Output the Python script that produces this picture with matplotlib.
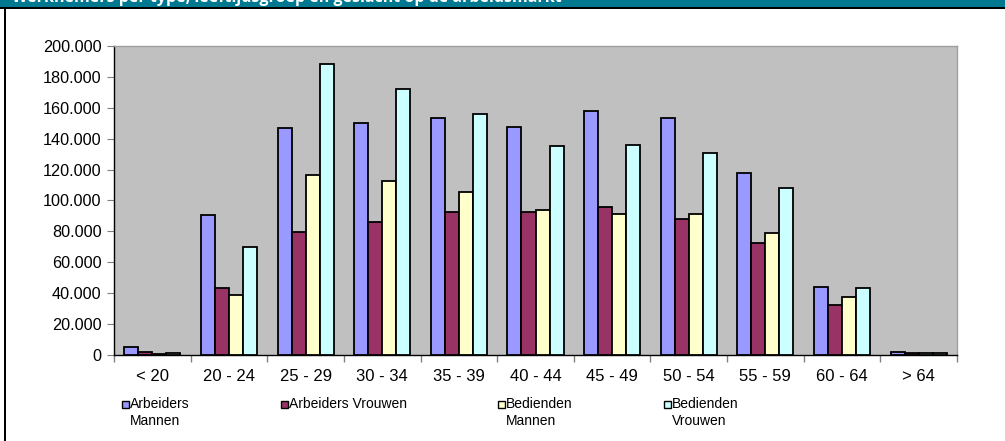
import matplotlib
matplotlib.use("Agg")
import matplotlib.pyplot as plt
import numpy as np
from matplotlib.patches import Rectangle
from matplotlib.ticker import FuncFormatter

categories = ["< 20", "20 - 24", "25 - 29", "30 - 34", "35 - 39", "40 - 44",
              "45 - 49", "50 - 54", "55 - 59", "60 - 64", "> 64"]
arbeiders_mannen = [5400, 90600, 146900, 150200, 153400, 147300, 157900, 153600, 118000, 44200, 2100]
arbeiders_vrouwen = [1700, 43100, 79600, 86100, 92600, 92600, 96000, 88200, 72300, 32600, 1500]
bedienden_mannen = [850, 38600, 116500, 112400, 105700, 93900, 91000, 91000, 78800, 37300, 1100]
bedienden_vrouwen = [1000, 70100, 188100, 172200, 156200, 135300, 136100, 130900, 108300, 43400, 1100]
series_names = ["Arbeiders\nMannen", "Arbeiders Vrouwen", "Bedienden\nMannen", "Bedienden\nVrouwen"]
series_values = [arbeiders_mannen, arbeiders_vrouwen, bedienden_mannen, bedienden_vrouwen]
colors = ["#9999FF", "#993366", "#FFFFCC", "#CCFFFF"]
yticks = list(range(0, 200001, 20000))
title = "Werknemers per type, leeftijdsgroep en geslacht op de arbeidsmarkt"

plt.rcParams["font.family"] = ["Liberation Sans", "DejaVu Sans"]

W, H = 1005, 441
fig = plt.figure(figsize=(W / 100, H / 100), dpi=100)
fig.patch.set_facecolor("white")

# plot area in pixels
x0, x1 = 114, 957
ytop, ybot = 46, 355
ax = fig.add_axes([x0 / W, 1 - ybot / H, (x1 - x0) / W, (ybot - ytop) / H])
ax.set_facecolor("#C0C0C0")

n = len(categories)
x = np.arange(n)
bw = 0.183
for i, (vals, c) in enumerate(zip(series_values, colors)):
    ax.bar(x + (i - 1.5) * bw, vals, width=bw, color=c, edgecolor="black",
           linewidth=1.3, zorder=3)

ax.set_xlim(-0.5, n - 0.5)
ax.set_ylim(0, 200000)
ax.set_yticks(yticks)
ax.yaxis.set_major_formatter(FuncFormatter(lambda v, p: "0" if v == 0 else f"{int(v):,}".replace(",", ".")))
ax.set_xticks(x)
ax.set_xticklabels(categories, fontsize=12)
ax.set_xticks(np.arange(-0.5, n, 1.0), minor=True)
ax.tick_params(axis="x", which="major", length=0, pad=10)
ax.tick_params(axis="x", which="minor", length=5, color="#808080", width=1)
ax.tick_params(axis="y", length=5, color="#808080", labelsize=11.7, pad=4)

for side in ["top", "right"]:
    ax.spines[side].set_color("#A0A0A0")
    ax.spines[side].set_linewidth(1)
for side in ["left", "bottom"]:
    ax.spines[side].set_color("black")
    ax.spines[side].set_linewidth(1)

# frame: title bar and left border
fig.patches.append(Rectangle((0, 1 - 7 / H), 1, 7 / H, transform=fig.transFigure,
                             facecolor="#007890", edgecolor="none", zorder=0))
fig.patches.append(Rectangle((0, 1 - 8.5 / H), 1, 2 / H, transform=fig.transFigure,
                             facecolor="black", edgecolor="none", zorder=1))
fig.patches.append(Rectangle((4 / W, 0), 2.2 / W, 1 - 7 / H, transform=fig.transFigure,
                             facecolor="black", edgecolor="none", zorder=1))
fig.text(12 / W, 1 - 2 / H, title, color="white", fontsize=11.5, fontweight="bold",
         family=["Open Sans", "DejaVu Sans"], va="baseline", ha="left")

# legend
leg_x = [122, 281, 498, 664]
for name, c, lx in zip(series_names, colors, leg_x):
    fig.patches.append(Rectangle((lx / W, 1 - 408 / H), 7 / W, 7 / H, transform=fig.transFigure,
                                 facecolor=c, edgecolor="black", linewidth=1))
    fig.text((lx + 8) / W, 1 - 397 / H, name, fontsize=10, va="top", ha="left",
             linespacing=1.3)

fig.savefig("out.png", dpi=100)
